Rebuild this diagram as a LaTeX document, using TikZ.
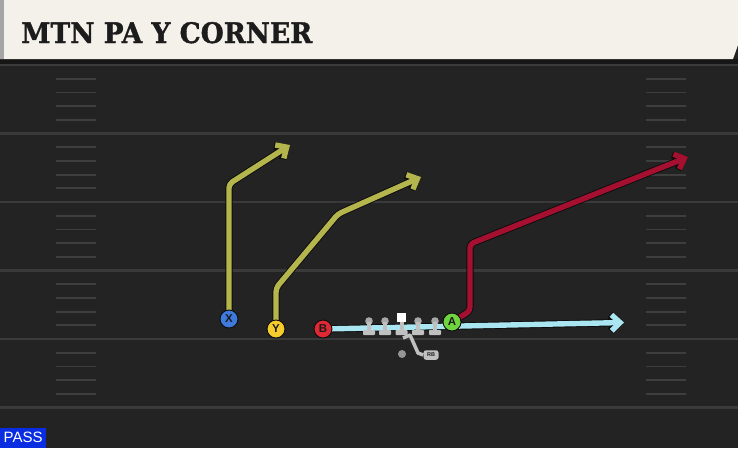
\documentclass[tikz,border=0pt]{standalone}
\usepackage{graphicx}
\usepackage{fontspec}
\setmainfont{Liberation Sans}
\newfontfamily\titlefont{DejaVu Serif}[FakeBold=1.2]
\usetikzlibrary{arrows.meta}
\definecolor{fieldc}{RGB}{35,35,35}
\definecolor{bandc}{RGB}{22,22,22}
\definecolor{yardc}{RGB}{58,58,58}
\definecolor{hashc}{RGB}{62,62,62}
\definecolor{creamc}{RGB}{244,241,234}
\definecolor{stripc}{RGB}{165,165,165}
\definecolor{titlec}{RGB}{28,28,28}
\definecolor{olivec}{RGB}{181,181,78}
\definecolor{redc}{RGB}{166,16,48}
\definecolor{bluec}{RGB}{170,230,242}
\definecolor{edgec}{RGB}{12,12,12}
\definecolor{lmc}{RGB}{192,192,192}
\definecolor{lmhead}{RGB}{168,168,168}
\definecolor{qbc}{RGB}{150,150,150}
\definecolor{xc}{RGB}{62,122,222}
\definecolor{yc}{RGB}{246,204,44}
\definecolor{bc}{RGB}{222,40,52}
\definecolor{ac}{RGB}{112,212,62}
\definecolor{passc}{RGB}{10,45,225}
\pgfdeclarelayer{fieldlayer}
\pgfdeclarelayer{routelayer}
\pgfsetlayers{fieldlayer,routelayer,main}
\tikzset{
  player/.style={circle, minimum size=18pt, inner sep=0pt, draw=edgec, line width=0.9pt,
    font=\fontsize{11.5}{11.5}\selectfont\bfseries, text=titlec},
  routeedge/.style={draw=edgec, line width=7.2pt, line join=round, rounded corners=4pt,
    -{Straight Barb[length=8.5pt,width=16pt,line width=7.2pt]}},
  routeline/.style={line width=5.4pt, line join=round, rounded corners=4pt,
    -{Straight Barb[length=8.5pt,width=16pt,line width=5.4pt]}},
  yardline/.style={draw=yardc, line width=2.2pt},
  hashline/.style={draw=hashc, line width=1.8pt},
  lineman/.style={fill=lmc},
}
\begin{document}
\begin{tikzpicture}[x=1pt,y=-1pt]
\useasboundingbox (0,0) rectangle (738,448);
\begin{pgfonlayer}{fieldlayer}
  \fill[fieldc] (0,0) rectangle (738,448);
  \fill[bandc] (0,59) rectangle (738,65);
  \foreach \y in {65,133.5,202,270.5,339,407.5}
    \draw[yardline] (0,\y) -- (738,\y);
  \foreach \k in {0,...,4}
    \foreach \j in {1,...,4} {
      \draw[hashline] (56,{65+68.5*\k+13.7*\j}) -- (96,{65+68.5*\k+13.7*\j});
      \draw[hashline] (646,{65+68.5*\k+13.7*\j}) -- (686,{65+68.5*\k+13.7*\j});
    }
  % header
  \fill[creamc] (0,0) -- (738,0) -- (738,45) -- (733,59) -- (0,59) -- cycle;
  \fill[stripc] (0,0) rectangle (3.5,59);
\end{pgfonlayer}

\node[anchor=base west, inner sep=0pt, text=titlec] (title) at (21,43)
  {\resizebox{291pt}{21pt}{\titlefont\bfseries MTN PA Y CORNER}};

% players
\node[player, fill=xc] (X) at (229,319) {X};
\node[player, fill=yc] (Y) at (276,329) {Y};
\node[player, fill=bc] (B) at (323,329) {B};
\node[player, fill=ac] (A) at (452,322) {A};

% route points
\coordinate (x1) at (229,184);
\coordinate (x2) at (290,145);
\coordinate (y1) at (276,288);
\coordinate (y2) at (338,214);
\coordinate (y3) at (421,177);
\coordinate (a1) at (470,311);
\coordinate (a2) at (470,244);
\coordinate (a3) at (688,157);
\coordinate (b1) at (624,322.5);

\begin{pgfonlayer}{routelayer}
  \draw[routeedge] (X.center) -- (x1) -- (x2);
  \draw[routeline, draw=olivec] (X.center) -- (x1) -- (x2);
  \draw[routeedge] (Y.center) -- (y1) -- (y2) -- (y3);
  \draw[routeline, draw=olivec] (Y.center) -- (y1) -- (y2) -- (y3);
  \draw[routeedge] (A.center) -- (a1) -- (a2) -- (a3);
  \draw[routeline, draw=redc] (A.center) -- (a1) -- (a2) -- (a3);
  \draw[routeedge] (B.center) -- (b1);
  \draw[routeline, draw=bluec] (B.center) -- (b1);
\end{pgfonlayer}

% offensive line
\foreach \x in {369,385,418,435} {
  \fill[lmhead] (\x,321) circle (3.8);
  \fill[lineman] (\x-2,322) rectangle (\x+2,332);
  \fill[lineman, rounded corners=0.8pt] (\x-6,330) rectangle (\x+6,335);
}
\fill[white] (397,313) rectangle (406,322);
\fill[lineman] (399.5,322) rectangle (403.5,332);
\fill[lineman, rounded corners=0.8pt] (395.5,330) rectangle (407.5,335);

% backfield
\node[fill=lmc, rounded corners=2.5pt, minimum width=15pt, minimum height=9.5pt, inner sep=0pt,
      font=\fontsize{5.5}{5.5}\selectfont\bfseries, text=titlec] (RB) at (431,355) {RB};
\coordinate (rb0) at (403,338);
\coordinate (rb1) at (410,335);
\coordinate (rb2) at (418,353);
\draw[lmc, line width=3.5pt, line join=round] (rb0) -- (rb1) -- (rb2) -- (RB.west);
\node[circle, fill=qbc, minimum size=8pt, inner sep=0pt] (QB) at (402,354) {};

% PASS tag
\node[fill=passc, text=white, anchor=south west, minimum width=46pt, minimum height=20pt,
      inner sep=0pt, font=\fontsize{15}{15}\selectfont] (pass) at (0,448) {PASS};
\end{tikzpicture}
\end{document}
